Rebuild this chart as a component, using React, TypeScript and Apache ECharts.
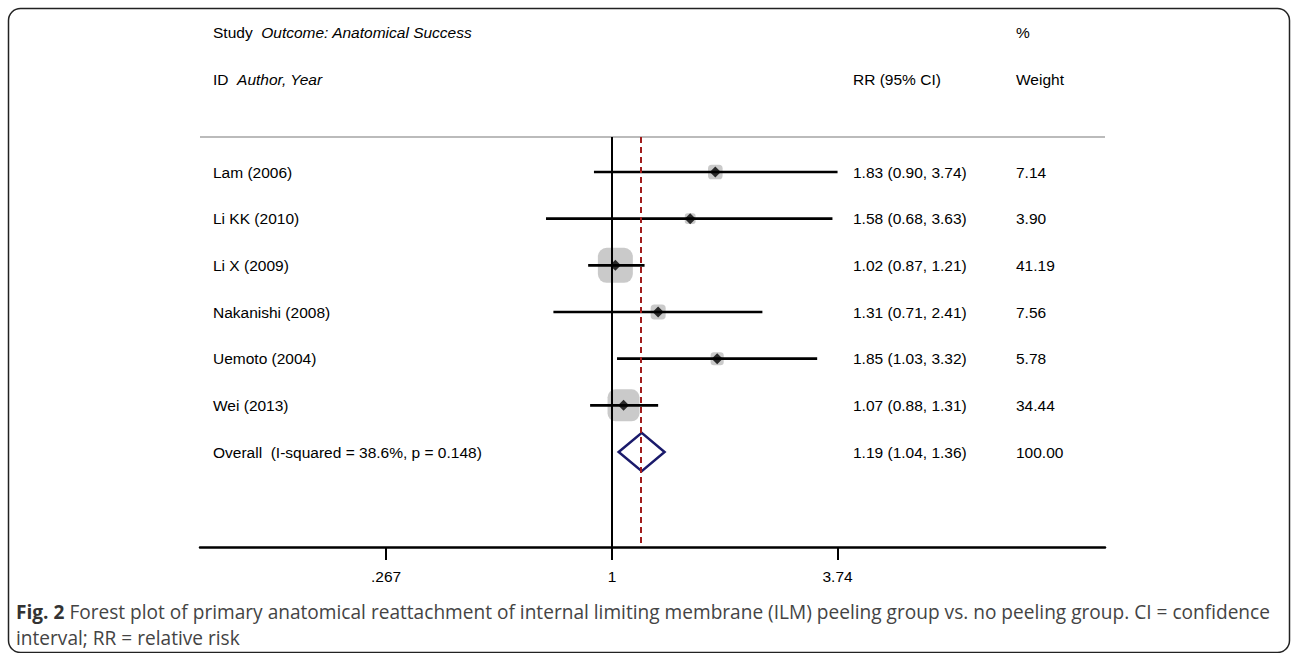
import React, { useEffect, useRef } from "react";
import * as echarts from "echarts";

const studies = ["Lam (2006)", "Li KK (2010)", "Li X (2009)", "Nakanishi (2008)", "Uemoto (2004)", "Wei (2013)"];
const rrValues = [1.83, 1.58, 1.02, 1.31, 1.85, 1.07];
const lowerCI = [0.9, 0.68, 0.87, 0.71, 1.03, 0.88];
const upperCI = [3.74, 3.63, 1.21, 2.41, 3.32, 1.31];
const weights = [7.14, 3.9, 41.19, 7.56, 5.78, 34.44];
const overallLabel = "Overall  (I-squared = 38.6%, p = 0.148)";
const overallValues = [1.19, 1.04, 1.36];
const overallWeight = "100.00";
const tickValues = [0.267, 1, 3.74];
const tickLabels = [".267", "1", "3.74"];

const FONT = "Liberation Sans, Arial, sans-serif";
const FS = 15.5;
const CAPTION_FONT = "Open Sans, sans-serif";
const caption1Bold = "Fig. 2";
const caption1Rest = " Forest plot of primary anatomical reattachment of internal limiting membrane (ILM) peeling group vs. no peeling group. CI = confidence";
const caption2 = "interval; RR = relative risk";

function measure(text: string, font: string): number {
  try {
    const c = document.createElement("canvas").getContext("2d");
    if (!c) return 0;
    c.font = font;
    return c.measureText(text).width;
  } catch (e) {
    return 0;
  }
}

export default function App() {
  const ref = useRef<HTMLDivElement>(null);
  useEffect(() => {
    if (!ref.current) return;
    const chart = echarts.init(ref.current, undefined, { renderer: "svg" });
    const ln = Math.log;
    const rows = studies.map((_, i) => i + 1);
    const overallRow = studies.length + 1;

    const capSize = 20;
    const wb = measure(caption1Bold, `bold ${capSize}px "Open Sans"`);
    const wr = measure(caption1Rest, `${capSize}px "Open Sans"`);
    const capScale = wb + wr > 0 ? 1254 / (wb + wr) : 1;

    const fmt = (v: number) => v.toFixed(2);
    const rowTexts = studies.map((s, i) => [s, `${fmt(rrValues[i])} (${fmt(lowerCI[i])}, ${fmt(upperCI[i])})`, fmt(weights[i])]);
    rowTexts.push([overallLabel, `${fmt(overallValues[0])} (${fmt(overallValues[1])}, ${fmt(overallValues[2])})`, overallWeight]);

    const option: any = {
      animation: false,
      backgroundColor: "#fff",
      grid: { left: 200, right: 187, top: 137, bottom: 106 },
      xAxis: {
        type: "value",
        min: -2.409,
        max: 2.883,
        splitLine: { show: false },
        axisLine: { show: true, lineStyle: { color: "#000", width: 2.5 } },
        axisTick: { show: true, customValues: tickValues.map((t) => ln(t)), length: 13, lineStyle: { color: "#000", width: 2 } },
        axisLabel: {
          customValues: tickValues.map((t) => ln(t)),
          formatter: (v: number) => {
            const i = tickValues.findIndex((t) => Math.abs(ln(t) - v) < 1e-6);
            return i >= 0 ? tickLabels[i] : "";
          },
          color: "#000",
          fontSize: FS,
          fontFamily: FONT,
          margin: 21,
        },
      },
      yAxis: { type: "value", min: 0.25, max: 9.035, inverse: true, show: false },
      graphic: [
        {
          type: "rect",
          shape: { x: 8.5, y: 8.5, width: 1281, height: 644, r: 12 },
          style: { fill: "none", stroke: "#222", lineWidth: 1.5 },
          z: 0,
        },
        {
          type: "text",
          x: 213,
          y: 32,
          style: {
            text: "{n|Study}  {i|Outcome: Anatomical Success}",
            rich: {
              n: { fontSize: FS, fontFamily: FONT, fill: "#000" },
              i: { fontSize: FS, fontFamily: FONT, fontStyle: "italic", fill: "#000" },
            },
            fontSize: FS,
            fontFamily: FONT,
            verticalAlign: "middle",
          },
        },
        {
          type: "text",
          x: 213,
          y: 79,
          style: {
            text: "{n|ID}  {i|Author, Year}",
            rich: {
              n: { fontSize: FS, fontFamily: FONT, fill: "#000" },
              i: { fontSize: FS, fontFamily: FONT, fontStyle: "italic", fill: "#000" },
            },
            fontSize: FS,
            fontFamily: FONT,
            verticalAlign: "middle",
          },
        },
        { type: "text", x: 853, y: 79, style: { text: "RR (95% CI)", fontSize: FS, fontFamily: FONT, fill: "#000", verticalAlign: "middle" } },
        { type: "text", x: 1016, y: 32, style: { text: "%", fontSize: FS, fontFamily: FONT, fill: "#000", verticalAlign: "middle" } },
        { type: "text", x: 1016, y: 79, style: { text: "Weight", fontSize: FS, fontFamily: FONT, fill: "#000", verticalAlign: "middle" } },
        {
          type: "text",
          x: 16,
          y: 611,
          scaleX: capScale,
          style: {
            text: `{b|${caption1Bold}}{r|${caption1Rest}}`,
            rich: {
              b: { fontSize: capSize, fontFamily: CAPTION_FONT, fontWeight: "bold", fill: "#333" },
              r: { fontSize: capSize, fontFamily: CAPTION_FONT, fill: "#444" },
            },
            fontSize: capSize,
            fontFamily: CAPTION_FONT,
            verticalAlign: "middle",
          },
        },
        {
          type: "text",
          x: 16,
          y: 637,
          scaleX: capScale,
          style: { text: caption2, fontSize: capSize, fontFamily: CAPTION_FONT, fill: "#444", verticalAlign: "middle" },
        },
      ],
      series: [
        {
          type: "scatter",
          name: "weights",
          symbol: "roundRect",
          z: 2,
          itemStyle: { color: "#bdbdbd" },
          data: rows.map((r, i) => ({ value: [ln(rrValues[i]), r], symbolSize: 5.45 * Math.sqrt(weights[i]) })),
          markLine: {
            silent: true,
            symbol: "none",
            label: { show: false },
            data: [
              { yAxis: 0.25, lineStyle: { color: "#bbbbbb", width: 2, type: "solid" } },
              { xAxis: 0, lineStyle: { color: "#000", width: 2, type: "solid" } },
              { xAxis: ln(overallValues[0]), lineStyle: { color: "#a01c1c", width: 2, type: [6, 4] } },
            ],
          },
        },
        {
          type: "custom",
          name: "ci",
          z: 3,
          clip: false,
          data: rows.map((r, i) => [r, ln(lowerCI[i]), ln(upperCI[i])]),
          renderItem: (params: any, api: any) => {
            const r = api.value(0);
            const p1 = api.coord([api.value(1), r]);
            const p2 = api.coord([api.value(2), r]);
            return {
              type: "line",
              shape: { x1: p1[0], y1: p1[1], x2: p2[0], y2: p2[1] },
              style: { stroke: "#000", lineWidth: 2.7 },
            };
          },
        },
        {
          type: "scatter",
          name: "estimates",
          symbol: "diamond",
          symbolSize: 11,
          z: 4,
          itemStyle: { color: "#000" },
          data: rows.map((r, i) => [ln(rrValues[i]), r]),
        },
        {
          type: "custom",
          name: "overall",
          z: 4,
          clip: false,
          data: [[overallRow, ln(overallValues[0]), ln(overallValues[1]), ln(overallValues[2])]],
          renderItem: (params: any, api: any) => {
            const r = api.value(0);
            const h = 0.41;
            const top = api.coord([api.value(1), r - h]);
            const left = api.coord([api.value(2), r]);
            const right = api.coord([api.value(3), r]);
            const bottom = api.coord([api.value(1), r + h]);
            return {
              type: "polygon",
              shape: { points: [left, top, right, bottom] },
              style: { fill: "none", stroke: "#1a1a6b", lineWidth: 2.5 },
            };
          },
        },
        {
          type: "custom",
          name: "texts",
          z: 5,
          clip: false,
          data: rowTexts.map((_, i) => [i + 1, i]),
          renderItem: (params: any, api: any) => {
            const r = api.value(0);
            const idx = api.value(1);
            const y = api.coord([0, r])[1];
            const t = rowTexts[idx];
            const mk = (x: number, text: string) => ({
              type: "text",
              style: { text, x, y, fontSize: FS, fontFamily: FONT, fill: "#000", verticalAlign: "middle", align: "left" },
            });
            return { type: "group", children: [mk(213, t[0]), mk(853, t[1]), mk(1016, t[2])] };
          },
        },
      ],
    };
    chart.setOption(option);
    return () => chart.dispose();
  }, []);
  return <div ref={ref} style={{ position: "fixed", left: 0, top: 0, width: 1292, height: 653, background: "#fff" }} />;
}
